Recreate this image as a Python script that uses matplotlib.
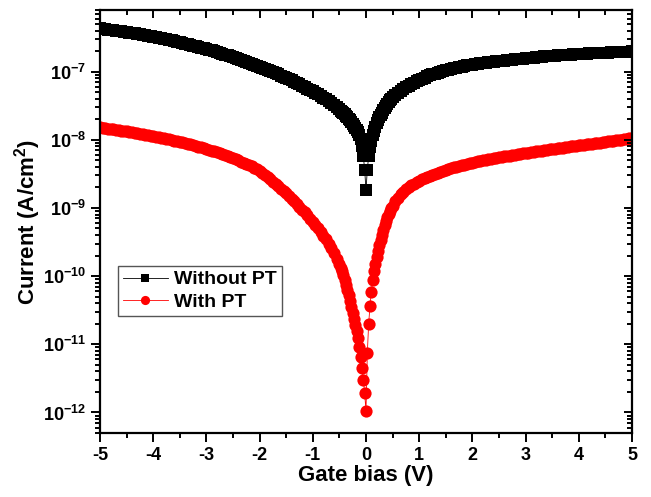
import numpy as np
import matplotlib
matplotlib.use('Agg')
import matplotlib.pyplot as plt
from matplotlib.ticker import LogLocator, MultipleLocator, NullFormatter, FixedLocator

plt.rcParams['font.family'] = ['Liberation Sans', 'DejaVu Sans']
plt.rcParams['font.weight'] = 'bold'
plt.rcParams['axes.unicode_minus'] = False
plt.rcParams['mathtext.fontset'] = 'custom'
plt.rcParams['mathtext.rm'] = 'Liberation Sans:bold'
plt.rcParams['mathtext.bf'] = 'Liberation Sans:bold'

# gate bias sweep (V): 0.05 V steps, 0.025 V steps around 0 V
bias = np.round(np.concatenate([
    np.linspace(-5.0, -0.55, 90),
    np.linspace(-0.5, 0.475, 40),
    np.linspace(0.5, 5.0, 91),
]), 3)

# log10 of current density (A/cm2)
log_without_pt = [
    -6.368, -6.373, -6.379, -6.384, -6.389, -6.394, -6.400, -6.405, -6.411, -6.417,
    -6.423, -6.429, -6.435, -6.441, -6.448, -6.454, -6.461, -6.468, -6.475, -6.482,
    -6.489, -6.496, -6.504, -6.511, -6.519, -6.527, -6.535, -6.543, -6.552, -6.561,
    -6.570, -6.579, -6.589, -6.598, -6.608, -6.618, -6.628, -6.638, -6.648, -6.658,
    -6.669, -6.680, -6.691, -6.702, -6.714, -6.726, -6.738, -6.750, -6.763, -6.776,
    -6.789, -6.802, -6.816, -6.829, -6.843, -6.857, -6.871, -6.885, -6.900, -6.915,
    -6.930, -6.945, -6.960, -6.975, -6.991, -7.007, -7.024, -7.041, -7.059, -7.077,
    -7.095, -7.113, -7.131, -7.150, -7.169, -7.188, -7.208, -7.228, -7.249, -7.270,
    -7.291, -7.313, -7.336, -7.359, -7.383, -7.408, -7.434, -7.461, -7.490, -7.521,
    -7.555, -7.573, -7.591, -7.610, -7.629, -7.649, -7.670, -7.692, -7.715, -7.739,
    -7.765, -7.793, -7.823, -7.856, -7.893, -7.937, -7.990, -8.090, -8.240, -8.440,
    -8.740,
    -8.440, -8.240, -8.110, -8.012, -7.933, -7.866, -7.808, -7.757, -7.712, -7.672,
    -7.635, -7.601, -7.568, -7.537, -7.507, -7.478, -7.450, -7.423, -7.397,
    -7.373, -7.340, -7.309, -7.280, -7.253, -7.228, -7.205, -7.183, -7.162, -7.142,
    -7.123, -7.105, -7.088, -7.072, -7.057, -7.043, -7.029, -7.016, -7.004, -6.993,
    -6.982, -6.972, -6.962, -6.953, -6.944, -6.935, -6.927, -6.919, -6.911, -6.904,
    -6.897, -6.891, -6.886, -6.881, -6.876, -6.871, -6.866, -6.861, -6.856, -6.851,
    -6.847, -6.842, -6.838, -6.833, -6.829, -6.825, -6.821, -6.817, -6.813, -6.809,
    -6.805, -6.801, -6.798, -6.794, -6.790, -6.786, -6.783, -6.779, -6.776, -6.773,
    -6.770, -6.767, -6.764, -6.761, -6.758, -6.755, -6.753, -6.750, -6.748, -6.745,
    -6.743, -6.741, -6.739, -6.737, -6.735, -6.733, -6.731, -6.729, -6.727, -6.725,
    -6.723, -6.721, -6.719, -6.717, -6.715, -6.713, -6.711, -6.709, -6.708, -6.706,
    -6.705,
]

log_with_pt = [
    -7.820, -7.825, -7.831, -7.836, -7.842, -7.848, -7.854, -7.860, -7.866, -7.872,
    -7.878, -7.884, -7.891, -7.897, -7.904, -7.911, -7.918, -7.925, -7.932, -7.939,
    -7.947, -7.954, -7.962, -7.970, -7.978, -7.986, -7.995, -8.003, -8.012, -8.021,
    -8.030, -8.039, -8.049, -8.059, -8.069, -8.079, -8.090, -8.101, -8.112, -8.123,
    -8.135, -8.147, -8.159, -8.172, -8.185, -8.198, -8.212, -8.226, -8.241, -8.256,
    -8.271, -8.287, -8.303, -8.320, -8.337, -8.355, -8.373, -8.392, -8.411, -8.436,
    -8.461, -8.491, -8.521, -8.552, -8.583, -8.615, -8.648, -8.682, -8.716, -8.751,
    -8.787, -8.824, -8.862, -8.901, -8.941, -8.982, -9.024, -9.067, -9.111, -9.156,
    -9.202, -9.250, -9.300, -9.352, -9.406, -9.463, -9.524, -9.590, -9.662, -9.742,
    -9.825, -9.875, -9.930, -9.990, -10.055, -10.125, -10.200, -10.280, -10.360, -10.450,
    -10.540, -10.630, -10.720, -10.810, -10.910, -11.040, -11.180, -11.350, -11.520, -11.720,
    -11.980,
    -11.130, -10.700, -10.440, -10.230, -10.060, -9.930, -9.820, -9.720, -9.630, -9.545,
    -9.465, -9.390, -9.320, -9.255, -9.195, -9.140, -9.090, -9.045, -9.005,
    -8.968, -8.905, -8.850, -8.803, -8.763, -8.728, -8.697, -8.669, -8.644, -8.621,
    -8.600, -8.580, -8.562, -8.545, -8.529, -8.513, -8.498, -8.484, -8.470, -8.457,
    -8.444, -8.431, -8.419, -8.407, -8.396, -8.385, -8.374, -8.364, -8.354, -8.344,
    -8.336, -8.327, -8.319, -8.311, -8.303, -8.295, -8.288, -8.280, -8.273, -8.266,
    -8.259, -8.252, -8.245, -8.238, -8.232, -8.225, -8.219, -8.212, -8.206, -8.200,
    -8.194, -8.188, -8.182, -8.176, -8.170, -8.164, -8.159, -8.153, -8.148, -8.142,
    -8.137, -8.131, -8.126, -8.120, -8.115, -8.109, -8.104, -8.098, -8.093, -8.088,
    -8.083, -8.078, -8.073, -8.068, -8.063, -8.057, -8.052, -8.047, -8.042, -8.036,
    -8.031, -8.025, -8.020, -8.014, -8.009, -8.003, -7.998, -7.992, -7.987, -7.981,
    -7.976,
]

j_without = 10.0 ** np.array(log_without_pt)
j_with = 10.0 ** np.array(log_with_pt)

x_ticks = [-5, -4, -3, -2, -1, 0, 1, 2, 3, 4, 5]
y_decades = [-12, -11, -10, -9, -8, -7]
xlim = (-5, 5)
ylim = (5e-13, 8e-7)

fig = plt.figure(figsize=(6.51, 4.97), dpi=100)
ax = fig.add_axes([0.1536, 0.1288, 0.8172, 0.8511])

ax.plot(bias, j_without, '-s', color='black', ms=8.4, mew=0, lw=0.6,
        label='Without PT')
ax.plot(bias, j_with, '-o', color='red', ms=8.8, mew=0, lw=0.6,
        label='With PT')

ax.set_yscale('log')
ax.set_xlim(*xlim)
ax.set_ylim(*ylim)

ax.set_xticks(x_ticks)
ax.set_xticklabels([str(v) for v in x_ticks])
ax.xaxis.set_minor_locator(MultipleLocator(0.5))
ax.yaxis.set_major_locator(FixedLocator([10.0 ** d for d in y_decades]))
ax.set_yticklabels([r'$\mathbf{10^{%d}}$' % d for d in y_decades])
ax.yaxis.set_minor_locator(LogLocator(base=10, subs=np.arange(2, 10), numticks=20))
ax.yaxis.set_minor_formatter(NullFormatter())

ax.tick_params(which='both', direction='out', top=False, right=False,
               labelsize=13, width=1.4)
ax.tick_params(which='major', length=6.5)
ax.tick_params(which='minor', length=3.5)
for s in ax.spines.values():
    s.set_linewidth(1.6)

ax.set_xlabel('Gate bias (V)', fontsize=16, fontweight='bold', labelpad=1)
ax.set_ylabel(r'Current (A/cm$\mathbf{^2}$)', fontsize=16, fontweight='bold',
              labelpad=0)

# inward ticks on top and right, as drawn by Origin
ax2 = fig.add_axes(ax.get_position(), frameon=False)
ax2.set_yscale('log')
ax2.set_xlim(*xlim)
ax2.set_ylim(*ylim)
ax2.set_xticks(x_ticks)
ax2.xaxis.set_minor_locator(MultipleLocator(0.5))
ax2.yaxis.set_major_locator(FixedLocator([10.0 ** d for d in y_decades]))
ax2.yaxis.set_minor_locator(LogLocator(base=10, subs=np.arange(2, 10), numticks=20))
ax2.xaxis.tick_top()
ax2.yaxis.tick_right()
ax2.tick_params(which='both', direction='in', labeltop=False, labelright=False,
                labelbottom=False, labelleft=False, width=1.4)
ax2.tick_params(which='major', length=6)
ax2.tick_params(which='minor', length=3.5)
ax2.patch.set_visible(False)

leg = ax.legend(loc='upper left', bbox_to_anchor=(0.034, 0.395), borderaxespad=0,
                prop={'size': 14, 'weight': 'bold'}, fancybox=False, framealpha=1,
                edgecolor='#555555', handlelength=2.3, handletextpad=0.35,
                labelspacing=0.25, borderpad=0.25, markerscale=0.75)
leg.get_frame().set_linewidth(1.0)

fig.savefig('out.png', dpi=100)
